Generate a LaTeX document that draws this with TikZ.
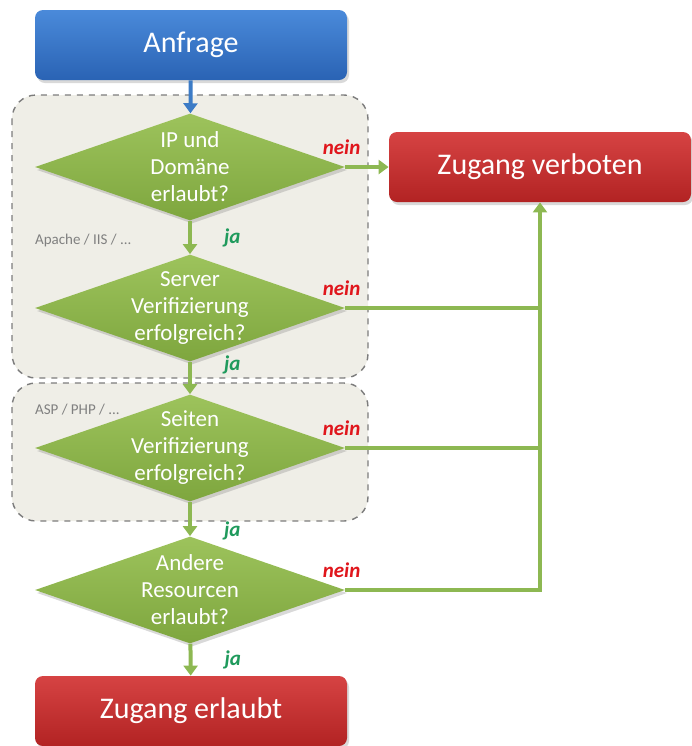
\documentclass[tikz,border=0pt]{standalone}
\usepackage{fontspec}
\setmainfont{Carlito}
\usetikzlibrary{positioning,shapes.geometric,arrows.meta,shadows}

\definecolor{boxblue}{HTML}{2A63B4}
\definecolor{boxbluetop}{HTML}{4A8ADA}
\definecolor{boxred}{HTML}{B22323}
\definecolor{boxredtop}{HTML}{D64343}
\definecolor{leaf}{HTML}{7EA63E}
\definecolor{leaftop}{HTML}{9DC35C}
\definecolor{groupfill}{HTML}{EFEEE7}
\definecolor{groupline}{HTML}{7C7C7C}
\definecolor{neinred}{HTML}{E0161C}
\definecolor{jagreen}{HTML}{1F9A5C}
\definecolor{flowgreen}{HTML}{8DB852}
\definecolor{flowblue}{HTML}{3C7BC6}

\begin{document}
\begin{tikzpicture}[x=0.5pt,y=-0.5pt,
  boxshadow/.style={drop shadow={opacity=0.3,shadow xshift=1pt,shadow yshift=-1.5pt}},
  start/.style={rectangle,rounded corners=4pt,minimum width=156pt,minimum height=35pt,
    top color=boxbluetop,bottom color=boxblue,text=white,boxshadow,
    font=\fontsize{15}{17}\selectfont},
  stop/.style={rectangle,rounded corners=4pt,minimum height=35pt,
    top color=boxredtop,bottom color=boxred,text=white,boxshadow,
    font=\fontsize{15}{17}\selectfont},
  check/.style={diamond,minimum width=155pt,minimum height=53.5pt,inner sep=0pt,
    top color=leaftop,bottom color=leaf,boxshadow},
  qtext/.style={text=white,align=center,font=\fontsize{11.5}{13.5}\selectfont},
  group/.style={draw=groupline,dashed,fill=groupfill,rounded corners=12pt,line width=0.7pt},
  grouplabel/.style={text=gray,anchor=west,font=\fontsize{7.5}{9}\selectfont},
  flowline/.style={draw=flowgreen,line width=2pt},
  flow/.style={flowline,-{Triangle[width=7pt,length=5pt]}},
  entry/.style={draw=flowblue,line width=2pt,-{Triangle[width=7pt,length=5pt]}},
  ja/.style={text=jagreen,inner sep=0pt,right=16pt,font=\fontsize{10.5}{12}\bfseries\itshape},
  nein/.style={text=neinred,inner sep=0pt,pos=0,anchor=south east,xshift=8.5pt,yshift=5pt,
    font=\fontsize{10.5}{12}\bfseries\itshape}]
\useasboundingbox (0,0) rectangle (692,746);

% grey boxes behind the checks
\draw[group] (12,95) rectangle (368,378);
\draw[group] (12,383) rectangle (368,521);
\node[grouplabel] (apache) at (28,240) {Apache / IIS / ...};
\node[grouplabel] (asp) at (28,410) {ASP / PHP / ...};

\node[start] (anfrage) at (191,45) {Anfrage};
\node[check,label={[qtext]center:{IP und\\Domäne\\erlaubt?}}] (ipcheck) at (190,167) {};
\node[check,label={[qtext]center:{Server\\Verifizierung\\erfolgreich?}}] (servercheck) at (190,308) {};
\node[check,label={[qtext]center:{Seiten\\Verifizierung\\erfolgreich?}}] (pagecheck) at (190,448) {};
\node[check,label={[qtext]center:{Andere\\Resourcen\\erlaubt?}}] (rescheck) at (190,590) {};
\node[stop,minimum width=156pt] (erlaubt) at (191,711) {Zugang erlaubt};
\node[stop,minimum width=151pt] (verboten) at (540,167) {Zugang verboten};

% ja
\draw[entry] (anfrage) -- (ipcheck);
\draw[flow] (ipcheck) -- node[ja]{ja} (servercheck);
\draw[flow] (servercheck) -- node[ja,pos=0.1]{ja} (pagecheck);
\draw[flow] (pagecheck) -- node[ja,pos=0.85]{ja} (rescheck);
\draw[flow] (rescheck) -- node[ja]{ja} (erlaubt);

% nein
\draw[flow] (ipcheck.east) -- node[nein]{nein} (verboten);
\draw[flowline] (servercheck.east) -- node[nein]{nein} (servercheck.east -| verboten.south);
\draw[flowline] (pagecheck.east) -- node[nein]{nein} (pagecheck.east -| verboten.south);
\draw[flow] (rescheck.east) -| node[nein]{nein} (verboten.south);
\end{tikzpicture}
\end{document}
